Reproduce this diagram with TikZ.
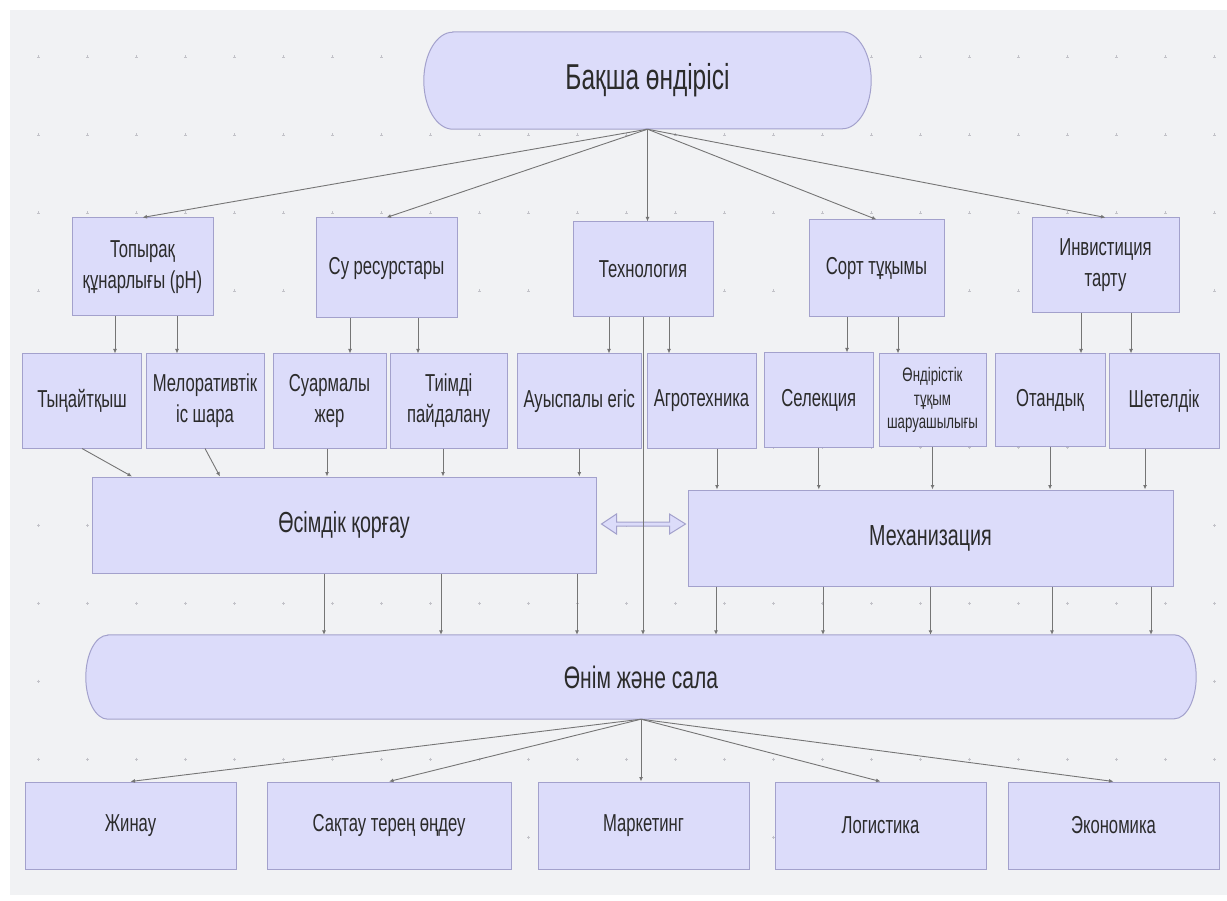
\documentclass[tikz,border=0pt]{standalone}
\usepackage{fontspec}
\setmainfont{Liberation Sans}[FakeStretch=0.68]
\usetikzlibrary{arrows.meta}

\definecolor{baggrund}{HTML}{F1F2F4}
\definecolor{boksfyld}{HTML}{DCDCFA}
\definecolor{kant}{HTML}{A3A1CC}
\definecolor{linje}{HTML}{757575}
\definecolor{tekst}{HTML}{2B2B2B}
\definecolor{prikfarve}{HTML}{C2C2C8}

\pgfdeclarelayer{bund}
\pgfsetlayers{bund,main}

\tikzset{
  str/.style 2 args={minimum width=#1pt, minimum height=#2pt},
  boks/.style={draw=kant, fill=boksfyld, line width=1pt, inner sep=1pt, align=center, text=tekst, font=\fontsize{24.5}{31}\selectfont},
  rund/.style={inner sep=0pt, align=center, text=tekst},
  pil/.style={linje, line width=0.9pt, -{Latex[length=4.5pt,width=4pt]}},
  prik/.style={prikfarve, line width=0.6pt}
}

% aflang boks med elliptiske ender: navn, x-radius, y-radius
\newcommand{\stadion}[3]{%
  \filldraw[draw=kant, fill=boksfyld, line width=1pt]
    ([xshift=#2pt]#1.north west) -- ([xshift=-#2pt]#1.north east)
    arc[start angle=90, end angle=-90, x radius=#2pt, y radius=#3pt]
    -- ([xshift=#2pt]#1.south west)
    arc[start angle=270, end angle=90, x radius=#2pt, y radius=#3pt] -- cycle;
}

\begin{document}
\begin{tikzpicture}[x=1pt,y=-1pt]
  %ramme, baggrund og prikker
	\useasboundingbox (0,0) rectangle (1227,901);
	\begin{pgfonlayer}{bund}
	  \fill[white] (0,0) rectangle (1227,901);
	  \fill[baggrund] (10,10) rectangle (1227,895);
	  \foreach \i in {0,...,24}
	    \foreach \j in {0,...,10}
	      \draw[prik] ({37+49*\i},{57+78*\j}) -- ++(3,0) ({38.5+49*\i},{55.5+78*\j}) -- ++(0,3);
	\end{pgfonlayer}

  %øverst
	\node[rund, font=\fontsize{36}{40}\selectfont, str={447}{97}] (top) at (647.5,80.5) {Бақша өндірісі};

  %niveau 2
	\node[boks, str={141}{98}] (topo) at (142.5,267) {Топырақ\\құнарлығы (pH)};
	\node[boks, str={141}{100}] (su) at (386.5,268) {Су ресурстары};
	\node[boks, str={140}{95}] (tekh) at (643,269.5) {Технология};
	\node[boks, str={135}{97}] (sort) at (876.5,268.5) {Сорт тұқымы};
	\node[boks, str={147}{95}] (inv) at (1105.5,265.5) {Инвистиция\\тарту};

  %niveau 3
	\node[boks, str={119}{94}] (tyn) at (82,401) {Тыңайтқыш};
	\node[boks, str={118}{94}] (melo) at (205,401) {Мелоративтік\\іс шара};
	\node[boks, str={113}{94}] (suar) at (329.5,401) {Суармалы\\жер};
	\node[boks, str={116.5}{94}] (tiim) at (448.75,401) {Тиімді\\пайдалану};
	\node[boks, str={124.6}{94}] (auys) at (579.3,401) {Ауыспалы егіс};
	\node[boks, str={109}{94}] (agro) at (701.5,401) {Агротехника};
	\node[boks, str={109.6}{94}] (sel) at (818.8,400) {Селекция};
	\node[boks, str={107}{92}, font=\fontsize{19.5}{23.5}\selectfont] (ondir) at (932.5,400) {Өндірістік\\тұқым\\шаруашылығы};
	\node[boks, str={110}{92}] (otan) at (1050,400) {Отандық};
	\node[boks, str={110}{94}] (shet) at (1164,401) {Шетелдік};

  %niveau 4
	\node[boks, font=\fontsize{29}{34}\selectfont, str={504}{96}] (osim) at (344,525) {Өсімдік қорғау};
	\node[boks, font=\fontsize{29}{34}\selectfont, str={485}{96}] (mech) at (930.5,538) {Механизация};

  %niveau 5
	\node[rund, font=\fontsize{31}{36}\selectfont, str={1110}{84}] (onim) at (641,677) {Өнім және сала};

  %niveau 6
	\node[boks, str={211}{87}] (jin) at (130.5,825.5) {Жинау};
	\node[boks, str={244}{87}] (saq) at (389,825.5) {Сақтау терең өңдеу};
	\node[boks, str={211}{87}] (mark) at (643.5,825.5) {Маркетинг};
	\node[boks, str={211}{87}] (log) at (880.5,825.5) {Логистика};
	\node[boks, str={211}{87}] (eko) at (1113.5,825.5) {Экономика};

  %runde bokse bagved teksten
	\begin{pgfonlayer}{bund}
	  \stadion{top}{29}{48.5}
	  \stadion{onim}{22}{42}
	\end{pgfonlayer}

  %pile fra toppen
	\draw[pil] (top.south) -- (topo.north);
	\draw[pil] (top.south) -- (su.north);
	\draw[pil] (top.south) -- (top.south |- tekh.north);
	\draw[pil] (top.south) -- (sort.north);
	\draw[pil] (top.south) -- (inv.north);

  %niveau 2 til 3
	\draw[pil] ([xshift=-27.5pt]topo.south) -- ([xshift=-27.5pt]topo.south |- tyn.north);
	\draw[pil] ([xshift=34.5pt]topo.south) -- ([xshift=34.5pt]topo.south |- melo.north);
	\draw[pil] ([xshift=-36.5pt]su.south) -- ([xshift=-36.5pt]su.south |- suar.north);
	\draw[pil] ([xshift=31.5pt]su.south) -- ([xshift=31.5pt]su.south |- tiim.north);
	\draw[pil] ([xshift=-34pt]tekh.south) -- ([xshift=-34pt]tekh.south |- auys.north);
	\draw[pil] ([xshift=26pt]tekh.south) -- ([xshift=26pt]tekh.south |- agro.north);
	\draw[pil] ([xshift=-29.5pt]sort.south) -- ([xshift=-29.5pt]sort.south |- sel.north);
	\draw[pil] ([xshift=21.5pt]sort.south) -- ([xshift=21.5pt]sort.south |- ondir.north);
	\draw[pil] ([xshift=-24.5pt]inv.south) -- ([xshift=-24.5pt]inv.south |- otan.north);
	\draw[pil] ([xshift=25.5pt]inv.south) -- ([xshift=25.5pt]inv.south |- shet.north);

  %niveau 3 til 4
	\draw[pil] (tyn.south) -- ([xshift=-212pt]osim.north);
	\draw[pil] (melo.south) -- ([xshift=-124pt]osim.north);
	\draw[pil] ([xshift=-2.5pt]suar.south) -- ([xshift=-2.5pt]suar.south |- osim.north);
	\draw[pil] ([xshift=-5.75pt]tiim.south) -- ([xshift=-5.75pt]tiim.south |- osim.north);
	\draw[pil] (auys.south) -- (auys.south |- osim.north);
	\draw[pil] ([xshift=15.5pt]agro.south) -- ([xshift=15.5pt]agro.south |- mech.north);
	\draw[pil] (sel.south) -- (sel.south |- mech.north);
	\draw[pil] (ondir.south) -- (ondir.south |- mech.north);
	\draw[pil] (otan.south) -- (otan.south |- mech.north);
	\draw[pil] ([xshift=-19pt]shet.south) -- ([xshift=-19pt]shet.south |- mech.north);

  %dobbeltpil mellem de to store bokse
	\filldraw[draw=kant, fill=boksfyld, line width=1pt] ([xshift=5pt,yshift=1pt]osim.east)
	  -- ++(15,-10) -- ++(0,8) -- ++(53,0) -- ++(0,-8) -- ++(16,10)
	  -- ++(-16,10) -- ++(0,-8) -- ++(-53,0) -- ++(0,8) -- cycle;

  %niveau 4 til 5
	\draw[pil] (tekh.south) -- (tekh.south |- onim.north);
	\draw[pil] ([xshift=-20pt]osim.south) -- ([xshift=-20pt]osim.south |- onim.north);
	\draw[pil] ([xshift=97pt]osim.south) -- ([xshift=97pt]osim.south |- onim.north);
	\draw[pil] ([xshift=233pt]osim.south) -- ([xshift=233pt]osim.south |- onim.north);
	\draw[pil] ([xshift=-214.5pt]mech.south) -- ([xshift=-214.5pt]mech.south |- onim.north);
	\draw[pil] ([xshift=-107.5pt]mech.south) -- ([xshift=-107.5pt]mech.south |- onim.north);
	\draw[pil] (mech.south) -- (mech.south |- onim.north);
	\draw[pil] ([xshift=121.5pt]mech.south) -- ([xshift=121.5pt]mech.south |- onim.north);
	\draw[pil] ([xshift=220.5pt]mech.south) -- ([xshift=220.5pt]mech.south |- onim.north);

  %pile til nederste række
	\draw[pil] (onim.south) -- (jin.north);
	\draw[pil] (onim.south) -- (saq.north);
	\draw[pil] (onim.south) -- (onim.south |- mark.north);
	\draw[pil] (onim.south) -- (log.north);
	\draw[pil] (onim.south) -- (eko.north);
\end{tikzpicture}
\end{document}
